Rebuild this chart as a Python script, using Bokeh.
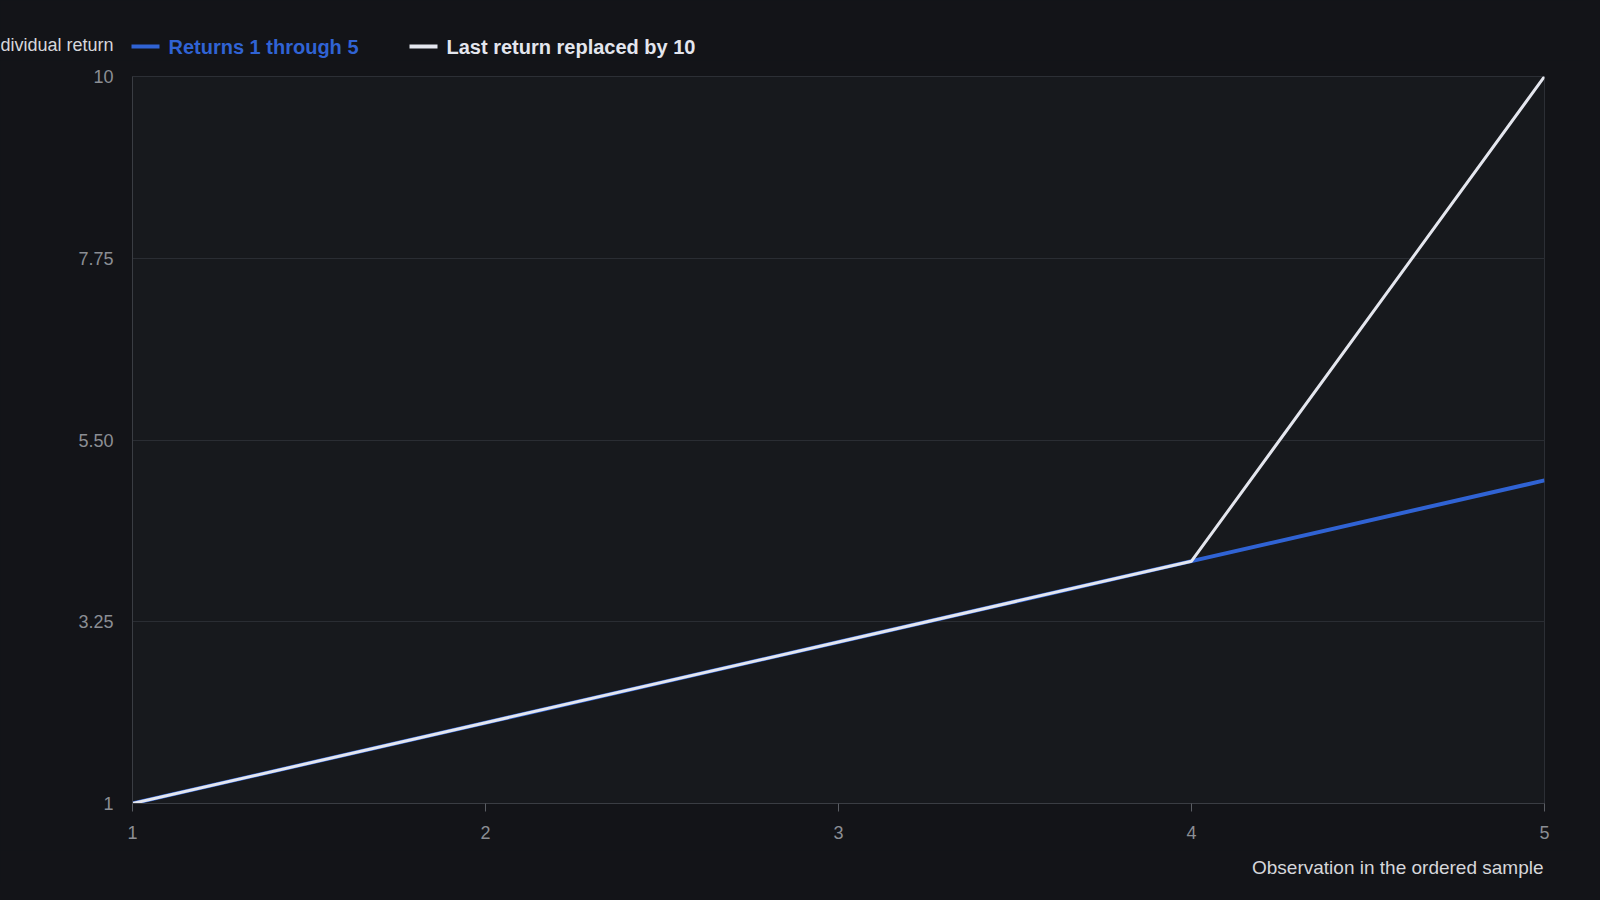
from bokeh.plotting import figure
from bokeh.layouts import column
from bokeh.models import FixedTicker, Range1d, ColumnDataSource
from bokeh.core.properties import value
from bokeh.embed import file_html
from bokeh.resources import INLINE

# ---- data ----
observations = [1, 2, 3, 4, 5]
returns_1_to_5 = [1, 2, 3, 4, 5]
last_replaced_by_10 = [1, 2, 3, 4, 10]
y_ticks = [1, 3.25, 5.5, 7.75, 10]
y_tick_labels = ["1", "3.25", "5.50", "7.75", "10"]
x_ticks = [1, 2, 3, 4, 5]
series_names = ["Returns 1 through 5", "Last return replaced by 10"]
x_title = "Observation in the ordered sample"
y_title = "Individual return"

BG = "#131418"
PLOT_BG = "#17191d"
BLUE = "#3063d4"
WHITE = "#e4e6ee"
TICK = "#8b8e94"
TITLE_C = "#d6d7db"
FONT = "Liberation Sans"

W = 1584
HEAD_H = 60
MAIN_H = 790
FOOT_H = 34


def blank(height):
    f = figure(width=W, height=height, output_backend="svg", toolbar_location=None,
               x_range=Range1d(0, W), y_range=Range1d(0, height),
               min_border=0, x_axis_type=None, y_axis_type=None)
    f.border_fill_color = BG
    f.background_fill_color = BG
    f.outline_line_color = None
    f.grid.grid_line_color = None
    f.frame_align = False
    return f


# ---------- header (y-axis title + legend) ----------
h = blank(HEAD_H)
h.text(x=[113], y=[HEAD_H - 44], text=[y_title], text_align="right",
       text_baseline="middle", text_color=TITLE_C, text_font=value(FONT),
       text_font_size="18px")
legend_colors = [BLUE, WHITE]
legend_x = [131, 409]
for name, col, lx in zip(series_names, legend_colors, legend_x):
    h.segment(x0=[lx], y0=[HEAD_H - 46], x1=[lx + 28], y1=[HEAD_H - 46],
              line_color=col, line_width=4)
    h.text(x=[lx + 37], y=[HEAD_H - 46], text=[name], text_align="left",
           text_baseline="middle", text_color=col, text_font=value(FONT),
           text_font_size="20px", text_font_style="bold")

# ---------- main chart ----------
p = figure(width=W, height=MAIN_H, output_backend="svg", toolbar_location=None,
           x_range=Range1d(1, 5), y_range=Range1d(1, 10))
p.min_border_left = 132
p.min_border_right = W - 1544
p.min_border_top = 16
p.min_border_bottom = MAIN_H - 16 - 727
p.border_fill_color = BG
p.background_fill_color = PLOT_BG
p.outline_line_color = "#2c2f35"
p.outline_line_width = 1
p.frame_align = False

src1 = ColumnDataSource(dict(x=observations, y=returns_1_to_5))
src2 = ColumnDataSource(dict(x=observations, y=last_replaced_by_10))
p.line("x", "y", source=src1, line_color=BLUE, line_width=4)
p.line("x", "y", source=src2, line_color=WHITE, line_width=3)

p.xaxis.ticker = FixedTicker(ticks=x_ticks)
p.yaxis.ticker = FixedTicker(ticks=y_ticks)
p.yaxis.major_label_overrides = {t: l for t, l in zip(y_ticks, y_tick_labels)}
for ax in (p.xaxis, p.yaxis):
    ax.axis_line_color = "#3a3d43"
    ax.major_label_text_color = TICK
    ax.major_label_text_font = FONT
    ax.major_label_text_font_size = "18px"
    ax.minor_tick_line_color = None
p.xaxis.major_tick_line_color = "#5a5d63"
p.xaxis.major_tick_out = 8
p.xaxis.major_tick_in = 0
p.xaxis.major_label_standoff = 14
p.yaxis.major_tick_line_color = None
p.yaxis.major_tick_out = 0
p.yaxis.major_tick_in = 0
p.yaxis.major_label_standoff = 19

p.xgrid.grid_line_color = None
p.ygrid.grid_line_color = "#2a2d33"
p.ygrid.grid_line_width = 1

# ---------- footer (x-axis title, right-aligned to the plot's right edge) ----------
ft = blank(FOOT_H)
ft.text(x=[1543], y=[FOOT_H - 17], text=[x_title], text_align="right",
        text_baseline="middle", text_color=TITLE_C, text_font=value(FONT),
        text_font_size="19px")

layout = column(h, p, ft, spacing=0)
html = file_html(layout, INLINE)
html = html.replace("</head>", "<style>html, body {background-color: #131418;}</style></head>", 1)
open("out.html", "w").write(html)
